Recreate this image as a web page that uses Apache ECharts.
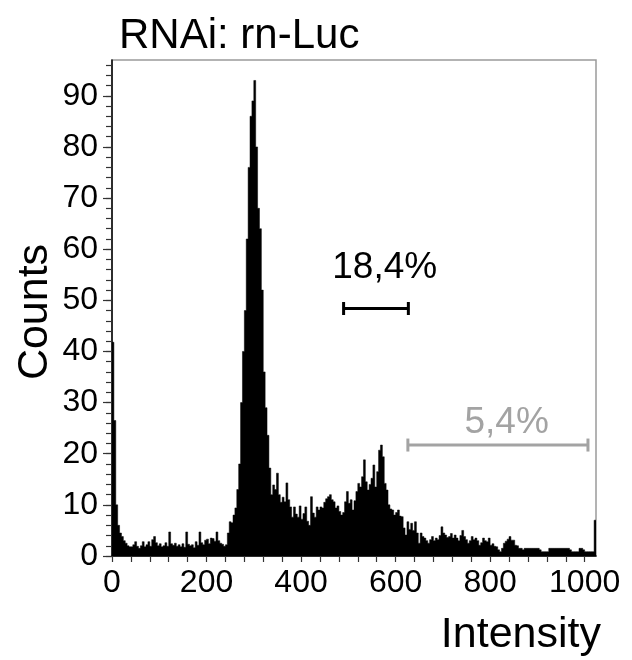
<!DOCTYPE html>
<html>
<head>
<meta charset="utf-8">
<script src="https://cdn.jsdelivr.net/npm/echarts@6/dist/echarts.min.js"></script>
<style>
html,body{margin:0;padding:0;background:#fff;}
#chart{width:632px;height:660px;}
</style>
</head>
<body>
<div id="chart"></div>
<script>
// Histogram: 256 channels of width 4 (0..1024)
const binWidth = 4;
const counts = [
  41.8, 26.5, 10, 6, 4.5, 3.8, 3, 2.5, 2, 1.8, 1.8, 2.2, 2.8, 1.9, 1.5, 2.0,
  2.8, 1.8, 2.2, 2.8, 1.9, 3.2, 3.8, 2.6, 2.0, 2.4, 1.8, 2.0, 2.6, 1.9, 4.7, 2.4,
  2.1, 2.5, 1.9, 2.2, 1.8, 2.4, 1.7, 4.7, 2.3, 2.0, 2.2, 1.6, 2.8, 2.1, 4.7, 2.6,
  2.2, 3.1, 3.3, 2.4, 3.5, 3.4, 2.9, 4.7, 3.0, 2.5, 2.3, 1.9, 2.2, 4.5, 6.7, 6.5,
  8, 9.4, 13, 18, 30, 40, 48, 62, 76, 86, 89, 93, 80, 68, 64, 52,
  36, 29, 23.6, 17.2, 12, 13.9, 13, 16.2, 12, 10.5, 11.5, 10.6, 14.3, 11, 9.6, 7.6,
  9.6, 8.2, 7.6, 9.8, 7.2, 8.3, 9.6, 6.8, 6, 11.6, 8.4, 7.6, 9.6, 9.0, 9.6, 9.4,
  10.5, 11.2, 11.6, 12.0, 11.0, 10.6, 9.4, 9.8, 8.7, 8.0, 8.5, 10.6, 12.6, 10.3, 11, 9,
  10.8, 12.6, 14.2, 13.5, 15.5, 18.8, 14.5, 12.9, 14.0, 15.2, 17.8, 13.5, 16.5, 20.7, 21.7, 19.4,
  14.2, 12.9, 10, 9.2, 9, 8, 8.5, 9, 7.8, 7.7, 5.5, 4.1, 6.7, 5.2, 6.4, 5.0,
  6.7, 4.5, 2.5, 4.5, 3.8, 3.5, 3.0, 2.5, 3.2, 3.8, 3.0, 3.5, 3.2, 4.0, 5.7, 4.5,
  4.1, 3.6, 3.8, 4.4, 3.5, 4.1, 3.5, 3.0, 4.0, 5.0, 3.8, 3.2, 2.5, 3.0, 3.8, 3.2,
  3.5, 3.0, 2.1, 2.6, 3.5, 3.0, 2.8, 3.5, 2.1, 2.4, 1.9, 1.8, 1.2, 0.85, 1.5, 2.5,
  2.9, 3.3, 3.8, 3.1, 3.1, 2.1, 2.0, 1.5, 1.5, 1.2, 1.5, 1.5, 1.5, 1.5, 1.5, 1.5,
  1.5, 1.5, 1.2, 0.85, 0.85, 0.85, 0.85, 1.5, 1.5, 1.5, 1.5, 1.5, 1.5, 1.5, 1.5, 1.5,
  1.5, 1.5, 1.2, 0.85, 0.85, 0.85, 0.85, 1.5, 1.5, 1.2, 0.85, 0.85, 0.85, 0.85, 0.85, 7
];

// Axis ticks / labels
const xMin = 0, xMax = 1024;
const yMin = 0, yMax = 97;
const xLabelValues = [0, 200, 400, 600, 800, 1000];
const xTickValues = [0,40,80,120,160,200,240,280,320,360,400,440,480,520,560,600,640,680,720,760,800,840,880,920,960,1000];
const yLabelValues = [0, 10, 20, 30, 40, 50, 60, 70, 80, 90];
const yMinorTickValues = [0,2,4,6,8,10,12,14,16,18,20,22,24,26,28,30,32,34,36,38,40,42,44,46,48,50,52,54,56,58,60,62,64,66,68,70,72,74,76,78,80,82,84,86,88,90,92,94,96];

// Gates (marker brackets)
const gateLabels = ['18,4%', '5,4%'];
const gateFrom = [490, 626];
const gateTo = [627, 1007];
const gateLevel = [48.4, 21.7];
const gateLabelX = [577, 835];
const gateLabelLevel = [56.3, 26.1];
const gateColors = ['#000000', '#a3a3a3'];

const titleText = 'RNAi: rn-Luc';
const xName = 'Intensity';
const yName = 'Counts';

const FONT = '"Liberation Sans", Arial, Helvetica, sans-serif';

// one item per bin: [binStart, binEnd, count]
const histData = counts.map((v, i) => [i * binWidth, (i + 1) * binWidth, v]);
const gateData = gateLabels.map((l, i) => [gateFrom[i], gateTo[i], gateLevel[i], gateLabelX[i], gateLabelLevel[i]]);

const chart = echarts.init(document.getElementById('chart'), null, {renderer: 'canvas'});
chart.setOption({
  animation: false,
  backgroundColor: '#fff',
  title: {
    text: titleText,
    left: 114, top: 10,
    textStyle: {fontFamily: FONT, fontSize: 42, fontWeight: 'normal', color: '#000'}
  },
  grid: {
    left: 112, top: 60, width: 484, height: 496,
    show: true, borderColor: '#9a9a9a', borderWidth: 1.5, backgroundColor: 'transparent'
  },
  xAxis: {
    type: 'value', min: xMin, max: xMax,
    axisLine: {show: true, onZero: false, lineStyle: {color: '#000', width: 1.5}},
    axisTick: {show: true, customValues: xTickValues, length: 6, lineStyle: {color: '#333', width: 1.2}},
    axisLabel: {customValues: xLabelValues, margin: 11, fontFamily: FONT, fontSize: 32, color: '#000',
      formatter: function (v) { return String(v); }},
    splitLine: {show: false}
  },
  yAxis: [
    {
      type: 'value', min: yMin, max: yMax, position: 'left',
      axisLine: {show: true, lineStyle: {color: '#000', width: 1.5}},
      axisTick: {show: true, customValues: yLabelValues, length: 9, lineStyle: {color: '#333', width: 1.2}},
      axisLabel: {customValues: yLabelValues, margin: 14, fontFamily: FONT, fontSize: 32, color: '#000',
        formatter: function (v) { return String(v); }},
      splitLine: {show: false}
    },
    {
      type: 'value', min: yMin, max: yMax, position: 'left',
      axisLine: {show: false},
      axisTick: {show: true, customValues: yMinorTickValues, length: 6, lineStyle: {color: '#333', width: 1.2}},
      axisLabel: {show: false},
      splitLine: {show: false}
    }
  ],
  graphic: [
    {type: 'text', x: 601, y: 635, style: {text: xName, font: '43px ' + FONT, fill: '#000', align: 'right', verticalAlign: 'middle'}},
    {type: 'text', x: 35, y: 312, rotation: Math.PI / 2, style: {text: yName, font: '43px ' + FONT, fill: '#000', align: 'center', verticalAlign: 'middle'}}
  ],
  series: [
    {
      // draws the whole histogram as one filled step outline (no seams between bins)
      type: 'custom', data: histData, clip: true, z: 2,
      encode: {x: [0, 1], y: 2},
      renderItem: function (params, api) {
        if (params.dataIndex !== 0) return null;
        const n = histData.length;
        const pts = [];
        pts.push(api.coord([histData[0][0], 0]));
        for (let i = 0; i < n; i++) {
          const d = histData[i];
          pts.push(api.coord([d[0], d[2]]));
          pts.push(api.coord([d[1], d[2]]));
        }
        pts.push(api.coord([histData[n - 1][1], 0]));
        return {
          type: 'polygon',
          shape: {points: pts},
          style: {fill: '#000', stroke: '#000', lineWidth: 0.5}
        };
      }
    },
    {
      type: 'custom', data: gateData, clip: false, z: 5,
      encode: {x: [0, 1, 3], y: [2, 4]},
      renderItem: function (params, api) {
        const i = params.dataIndex;
        const p1 = api.coord([api.value(0), api.value(2)]);
        const p2 = api.coord([api.value(1), api.value(2)]);
        const pt = api.coord([api.value(3), api.value(4)]);
        const c = gateColors[i];
        const cap = 6.5;
        return {
          type: 'group',
          children: [
            {type: 'line', shape: {x1: p1[0], y1: p1[1], x2: p2[0], y2: p2[1]}, style: {stroke: c, lineWidth: 3}},
            {type: 'line', shape: {x1: p1[0], y1: p1[1] - cap, x2: p1[0], y2: p1[1] + cap}, style: {stroke: c, lineWidth: 3}},
            {type: 'line', shape: {x1: p2[0], y1: p2[1] - cap, x2: p2[0], y2: p2[1] + cap}, style: {stroke: c, lineWidth: 3}},
            {type: 'text', x: pt[0], y: pt[1], style: {text: gateLabels[i], font: '37px ' + FONT, fill: c, align: 'center', verticalAlign: 'middle'}}
          ]
        };
      }
    }
  ]
});
</script>
</body>
</html>
